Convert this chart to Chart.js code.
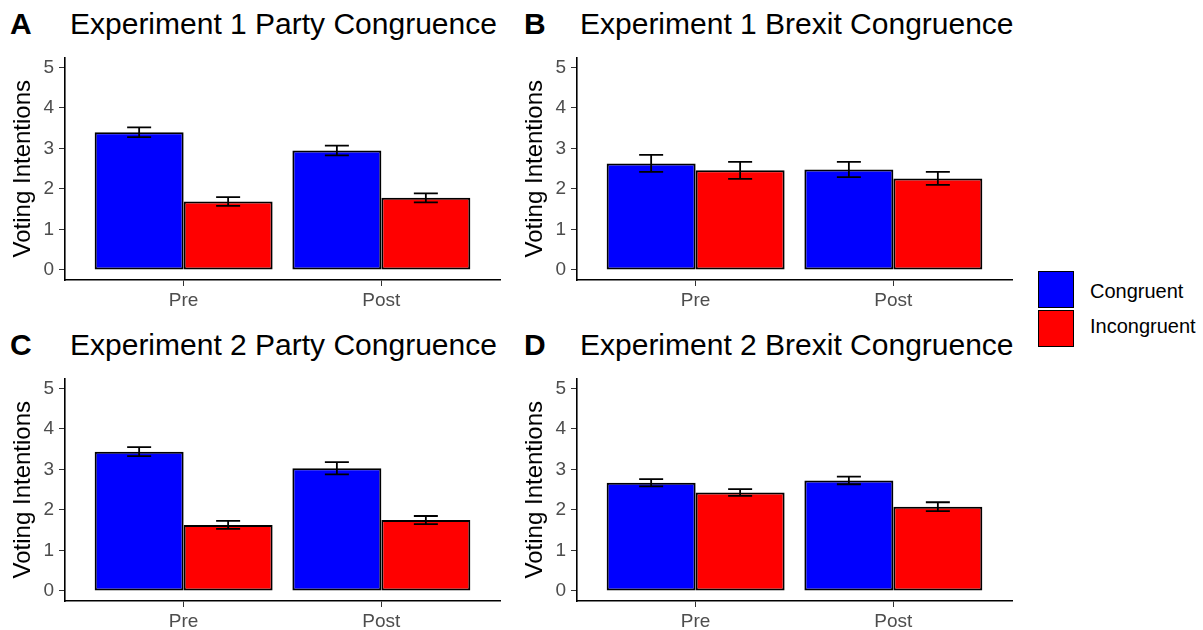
<!DOCTYPE html>
<html>
<head>
<meta charset="utf-8">
<script src="https://cdn.jsdelivr.net/npm/chart.js@4"></script>
<style>
    body { margin: 0; width: 1203px; height: 630px; background: #fff; position: relative; overflow: hidden;
           font-family: 'Liberation Sans', Arial, sans-serif; }
    .panel { position: absolute; width: 510px; height: 284px; }
    .tag { position: absolute; font-size: 30px; font-weight: bold; color: #000; line-height: 1; }
    .title { position: absolute; font-size: 30px; color: #000; line-height: 1; white-space: nowrap; }
    .key { position: absolute; width: 34px; height: 35px; border: 1.5px solid #000; }
    .key-label { position: absolute; font-size: 20px; color: #000; line-height: 1; }
</style>
</head>
<body>
<div class="tag" style="left:10px; top:9px;">A</div>
<div class="title" style="left:70px; top:9px;">Experiment 1 Party Congruence</div>
<div class="tag" style="left:524px; top:9px;">B</div>
<div class="title" style="left:580px; top:9px;">Experiment 1 Brexit Congruence</div>
<div class="tag" style="left:10px; top:330px;">C</div>
<div class="title" style="left:70px; top:330px;">Experiment 2 Party Congruence</div>
<div class="tag" style="left:524px; top:330px;">D</div>
<div class="title" style="left:580px; top:330px;">Experiment 2 Brexit Congruence</div>

<div class="panel" style="left:0; top:41px;"><canvas id="chartA"></canvas></div>
<div class="panel" style="left:512px; top:41px;"><canvas id="chartB"></canvas></div>
<div class="panel" style="left:0; top:362px;"><canvas id="chartC"></canvas></div>
<div class="panel" style="left:512px; top:362px;"><canvas id="chartD"></canvas></div>

<div class="key" style="left:1038px; top:271px; background:#0000FF;"></div>
<div class="key-label" style="left:1090px; top:281px;">Congruent</div>
<div class="key" style="left:1038px; top:310px; background:#FF0000;"></div>
<div class="key-label" style="left:1090px; top:316px;">Incongruent</div>

<script>
// Categories and tick labels
const categories = ['Pre', 'Post'];
const yTicks = [0, 1, 2, 3, 4, 5];

// Panel A: Experiment 1 Party Congruence
const aCongruent = [3.40, 2.95];
const aIncongruent = [1.69, 1.78];
const aCongruentErr = [0.12, 0.12];
const aIncongruentErr = [0.11, 0.11];

// Panel B: Experiment 1 Brexit Congruence
const bCongruent = [2.63, 2.48];
const bIncongruent = [2.46, 2.26];
const bCongruentErr = [0.21, 0.19];
const bIncongruentErr = [0.21, 0.16];

// Panel C: Experiment 2 Party Congruence
const cCongruent = [3.44, 3.03];
const cIncongruent = [1.63, 1.75];
const cCongruentErr = [0.11, 0.15];
const cIncongruentErr = [0.10, 0.10];

// Panel D: Experiment 2 Brexit Congruence
const dCongruent = [2.67, 2.73];
const dIncongruent = [2.43, 2.08];
const dCongruentErr = [0.09, 0.095];
const dIncongruentErr = [0.085, 0.11];

const FONT = "'Liberation Sans', Arial, sans-serif";

// draws mean +/- error whiskers on top of each bar
const errorBarPlugin = {
    id: 'errorBars',
    afterDatasetsDraw(chart) {
        const ctx = chart.ctx;
        const yScale = chart.scales.y;
        ctx.save();
        ctx.strokeStyle = '#000';
        ctx.lineWidth = 1.8;
        chart.data.datasets.forEach((ds, i) => {
            const meta = chart.getDatasetMeta(i);
            meta.data.forEach((bar, j) => {
                const v = ds.data[j].y;
                const e = ds.errors[j];
                const top = yScale.getPixelForValue(v + e);
                const bottom = yScale.getPixelForValue(v - e);
                const half = 12;
                ctx.beginPath();
                ctx.moveTo(bar.x, top);
                ctx.lineTo(bar.x, bottom);
                ctx.moveTo(bar.x - half, top);
                ctx.lineTo(bar.x + half, top);
                ctx.moveTo(bar.x - half, bottom);
                ctx.lineTo(bar.x + half, bottom);
                ctx.stroke();
            });
        });
        ctx.restore();
    }
};

function makeDataset(label, values, errors, color) {
    return {
        label: label,
        data: values.map((v, i) => ({ x: i + 1, y: v })),
        errors: errors,
        backgroundColor: color,
        borderColor: '#000',
        borderWidth: 2,
        borderSkipped: false,
        categoryPercentage: 0.9,
        barPercentage: 1.0
    };
}

function initPanel(id, congruent, incongruent, congruentErr, incongruentErr) {
    const ctx = document.getElementById(id).getContext('2d');
    new Chart(ctx, {
        type: 'bar',
        data: {
            datasets: [
                makeDataset('Congruent', congruent, congruentErr, '#0000FF'),
                makeDataset('Incongruent', incongruent, incongruentErr, '#FF0000')
            ]
        },
        options: {
            responsive: true,
            maintainAspectRatio: false,
            animation: false,
            layout: { padding: { top: 7, right: 10, left: 0, bottom: 0 } },
            plugins: {
                legend: { display: false },
                tooltip: { enabled: false }
            },
            scales: {
                x: {
                    type: 'linear',
                    offset: false,
                    min: 0.4,
                    max: 2.6,
                    afterBuildTicks: scale => {
                        scale.ticks = categories.map((c, i) => ({ value: i + 1 }));
                    },
                    afterFit: scale => { scale.height = 45; },
                    ticks: {
                        callback: value => categories[value - 1],
                        color: '#4D4D4D',
                        font: { family: FONT, size: 19 },
                        padding: 3
                    },
                    grid: { offset: false, drawOnChartArea: false, drawTicks: true, tickLength: 6, color: '#333' },
                    border: { display: true, color: '#000', width: 1.6 }
                },
                y: {
                    min: -0.25,
                    max: 5.25,
                    afterBuildTicks: scale => {
                        scale.ticks = yTicks.map(v => ({ value: v }));
                    },
                    afterFit: scale => { scale.width = 65; },
                    ticks: {
                        color: '#4D4D4D',
                        font: { family: FONT, size: 19 },
                        padding: 5
                    },
                    grid: { drawOnChartArea: false, drawTicks: true, tickLength: 6, color: '#333' },
                    border: { display: true, color: '#000', width: 1.6 },
                    title: {
                        display: true,
                        text: 'Voting Intentions',
                        color: '#000',
                        font: { family: FONT, size: 24 },
                        padding: { top: 9, bottom: 0 }
                    }
                }
            }
        },
        plugins: [errorBarPlugin]
    });
}

document.addEventListener('DOMContentLoaded', function() {
    initPanel('chartA', aCongruent, aIncongruent, aCongruentErr, aIncongruentErr);
    initPanel('chartB', bCongruent, bIncongruent, bCongruentErr, bIncongruentErr);
    initPanel('chartC', cCongruent, cIncongruent, cCongruentErr, cIncongruentErr);
    initPanel('chartD', dCongruent, dIncongruent, dCongruentErr, dIncongruentErr);
});
</script>
</body>
</html>
